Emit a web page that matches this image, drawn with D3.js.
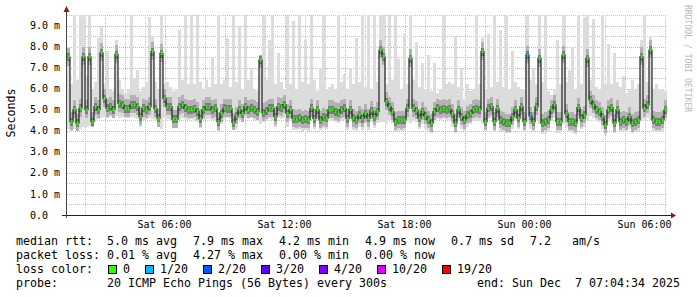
<!DOCTYPE html>
<html>
<head>
<meta charset="utf-8">
<script src="https://cdn.jsdelivr.net/npm/d3@7"></script>
<style>
body { margin: 0; background: #fff; }
svg { display: block; font-family: "DejaVu Sans Mono", monospace; }
text { white-space: pre; }
</style>
</head>
<body>
<svg id="chart" width="697" height="297"></svg>
<script>
// median rtt per 9 min sample (ms), 30 hours
const median = [
  7.5,4.43,5.0,4.36,5.07,7.52,5.0,7.52,4.43,5.15, 5.0,7.71,5.54,5.07,5.15,5.02,7.63,5.3,5.23,5.05,
  5.05,5.23,5.23,5.15,4.67,5.07,5.0,5.15,7.76,5.05, 4.6,7.68,5.54,5.15,5.15,4.55,4.55,5.15,5.23,5.07,
  5.0,5.02,5.05,4.91,4.59,5.0,5.15,5.15,5.0,5.07,
  4.43,4.83,5.07,5.05,5.05,4.4,4.7,5.0,4.83,5.15, 5.0,5.07,5.0,4.91,7.36,4.85,4.95,5.07,5.07,4.67,
  5.15,5.1,5.23,4.83,5.0,4.59,4.55,4.6,4.51,4.55, 4.51,5.07,4.59,5.0,4.51,4.65,4.6,5.0,5.0,4.91,
  4.85,5.0,5.07,4.59,5.02,4.6,4.51,4.75,4.59,4.83,
  4.6,4.95,4.67,4.91,7.84,7.52,5.38,5.15,4.91,4.43, 4.51,4.5,4.51,5.07,7.44,5.07,4.95,4.6,4.91,4.7,
  4.51,4.36,4.91,5.07,5.0,5.05,5.0,5.05,4.8,4.36, 5.0,4.67,4.5,4.75,4.83,5.0,5.05,5.0,7.76,4.43,
  5.07,5.15,4.43,5.05,4.51,4.43,4.36,4.36,4.67,5.0,
  4.6,5.15,4.43,7.6,4.7,4.43,5.15,7.44,4.36,4.43, 4.51,5.0,5.23,4.43,4.43,7.6,4.8,4.43,4.43,4.36,
  5.1,4.6,4.75,7.44,5.46,5.23,5.0,4.91,4.67,4.28, 5.0,5.1,4.36,5.0,4.43,4.51,4.43,4.67,4.36,4.43,
  4.51,7.52,5.07,5.23,7.84,4.51,4.43,4.43,4.51,5.0
];
// slowest ping per sample (top of smoke)
const smokeHi = [
  8.0,6.2,9.6,6.4,9.6,9.6,6.6,9.6,6.0,6.3, 8.4,9.0,6.2,7.8,6.0,5.9,8.3,6.4,6.0,5.8,
  6.0,9.6,6.5,6.9,5.9,6.1,6.3,9.4,8.5,6.3, 6.0,9.6,6.2,6.3,6.1,5.9,6.0,8.8,6.4,9.6,
  6.2,9.6,6.2,9.6,6.3,6.0,6.4,6.1,7.5,6.2,
  9.6,6.2,6.4,8.4,6.1,9.6,6.3,9.0,6.0,9.6, 6.4,7.0,6.0,5.9,7.6,9.6,6.4,8.3,9.6,6.2,
  7.7,6.3,6.0,9.6,6.2,9.2,6.0,9.6,6.3,8.3, 6.2,9.6,6.4,5.9,7.0,9.6,6.0,6.1,6.2,6.0,
  9.6,6.3,6.7,6.0,7.0,6.2,8.4,6.3,9.6,6.1,
  9.6,6.0,9.6,6.3,9.6,9.6,6.2,9.6,6.4,9.6, 7.4,6.0,8.6,6.2,9.6,6.4,8.2,6.1,7.2,6.0,
  7.6,5.9,7.2,5.8,6.0,9.6,6.2,6.3,6.2,8.5, 6.1,7.0,5.5,6.2,5.9,6.0,9.6,6.2,8.4,6.0,
  8.6,6.1,9.6,6.3,8.8,6.1,9.6,6.0,7.8,6.3,
  6.1,6.0,6.0,9.6,6.4,7.0,6.2,9.6,6.3,9.6, 5.9,5.7,6.0,8.3,6.2,9.6,6.3,6.9,8.0,6.0,
  9.6,6.2,9.4,9.5,6.4,9.3,6.1,6.0,9.6,6.2, 8.1,6.2,7.7,6.3,6.1,6.6,5.8,6.0,6.4,6.0,
  6.2,8.3,9.6,6.3,8.5,6.0,6.2,6.0,6.0,5.9
];
// fastest ping per sample (bottom of smoke)
const smokeLo = [
  4.1,4.0,4.1,4.0,4.1,4.2,4.2,4.25,4.2,4.5, 4.55,4.6,4.65,4.6,4.65,4.6,4.7,4.6,4.65,4.6,
  4.6,4.65,4.6,4.55,4.2,4.5,4.55,4.6,4.55,4.5, 4.2,4.1,4.6,4.55,4.5,4.15,4.15,4.5,4.6,4.55,
  4.5,4.55,4.5,4.4,4.15,4.5,4.55,4.55,4.5,4.5,
  3.95,4.3,4.55,4.6,4.55,4.05,4.1,4.5,4.4,4.6, 4.55,4.6,4.5,4.45,4.3,4.4,4.45,4.55,4.5,4.2,
  4.6,4.55,4.6,4.2,4.45,4.05,4.05,4.1,4.0,4.05, 4.0,4.5,4.1,4.45,4.05,4.15,4.1,4.45,4.5,4.4,
  4.35,4.45,4.5,4.05,4.45,4.05,3.95,4.2,4.05,4.3,
  4.05,4.4,4.15,4.35,4.4,4.4,4.3,4.5,4.35,3.95, 4.0,4.0,4.0,4.45,4.35,4.45,4.4,4.1,4.3,4.1,
  4.0,3.9,4.35,4.55,4.5,4.55,4.5,4.5,4.2,3.9, 4.45,4.1,4.0,4.2,4.3,4.45,4.5,4.45,4.3,4.0,
  4.55,4.6,3.95,4.5,4.0,3.95,3.9,3.9,4.1,4.45,
  4.1,4.5,3.95,4.4,4.1,3.95,4.5,4.3,3.85,3.9, 4.0,4.45,4.6,3.9,3.9,4.3,4.2,3.95,3.9,3.85,
  4.5,4.1,4.2,4.45,4.7,4.6,4.45,4.4,4.1,3.8, 4.4,4.5,3.9,4.45,3.95,4.0,3.95,4.1,3.9,3.95,
  4.0,4.45,4.55,4.6,4.5,4.0,3.95,3.95,4.0,4.45
];
// samples that lost pings (index, lost of 20)
const lossIdx = [153, 154];
const lossCnt = [1, 1];

const lossLabels = ["0", "1/20", "2/20", "3/20", "4/20", "10/20", "19/20"];
const lossLimits = [0, 1, 2, 3, 4, 10, 19];
const lossColors = ["#26ff00", "#00b8ff", "#0059ff", "#5e00ff", "#7e00ff", "#dd00ff", "#ff0000"];

const yTicks = [0, 1, 2, 3, 4, 5, 6, 7, 8, 9];
const yTickNums = ["0.0", "1.0", "2.0", "3.0", "4.0", "5.0", "6.0", "7.0", "8.0", "9.0"];
const yTickUnits = ["", "m", "m", "m", "m", "m", "m", "m", "m", "m"];
const xTickClock = [6, 12, 18, 24, 30];
const xTickLabels = ["Sat 06:00", "Sat 12:00", "Sat 18:00", "Sun 00:00", "Sun 06:00"];

const statsRtt = ["5.0 ms avg", "7.9 ms max", "4.2 ms min", "4.9 ms now", "0.7 ms sd"];
const statsLoss = ["0.01 % avg", "4.27 % max", "0.00 % min", "0.00 % now"];

const stepH = 0.15;          // hours per sample
const spanH = 30;            // graph span, hours
const startClock = 1.125;    // Sat 01:07:30

const svg = d3.select("#chart");
const pL = 67, pR = 667, pT = 15, pB = 215;

let x = d3.scaleLinear().domain([0, spanH]).range([pL, pR]);
let y = d3.scaleLinear().domain([0, 9.5]).range([pB, pT]);
let yc = v => y(Math.max(0, Math.min(9.5, v)));

svg.append("defs").append("clipPath").attr("id", "plotclip")
    .append("rect").attr("x", pL).attr("y", pT).attr("width", pR - pL).attr("height", pB - pT);

// grid
let grid = svg.append("g").attr("shape-rendering", "crispEdges");
let minorY = d3.range(0.5, 9.6, 1);
grid.selectAll(".gy").data(minorY).enter().append("line")
    .attr("x1", pL).attr("x2", pR)
    .attr("y1", d => Math.round(y(d)) + 0.5).attr("y2", d => Math.round(y(d)) + 0.5)
    .attr("stroke", "#c4c4c4").attr("stroke-dasharray", "1,1");
let hours = d3.range(2, 32);
grid.selectAll(".gx").data(hours.filter(h => h % 3 != 0)).enter().append("line")
    .attr("x1", h => Math.round(x(h - startClock)) + 0.5).attr("x2", h => Math.round(x(h - startClock)) + 0.5)
    .attr("y1", pT).attr("y2", pB)
    .attr("stroke", "#c4c4c4").attr("stroke-dasharray", "1,1");
grid.selectAll(".my").data(yTicks.slice(1)).enter().append("line")
    .attr("x1", pL).attr("x2", pR)
    .attr("y1", d => Math.round(y(d)) + 0.5).attr("y2", d => Math.round(y(d)) + 0.5)
    .attr("stroke", "#eba3a3").attr("stroke-dasharray", "1,1");
grid.selectAll(".mx").data(hours.filter(h => h % 3 == 0)).enter().append("line")
    .attr("x1", h => Math.round(x(h - startClock)) + 0.5).attr("x2", h => Math.round(x(h - startClock)) + 0.5)
    .attr("y1", pT).attr("y2", pB)
    .attr("stroke", "#eba3a3").attr("stroke-dasharray", "1,1");

// smoke
let plot = svg.append("g").attr("clip-path", "url(#plotclip)").attr("shape-rendering", "crispEdges");
let idx = d3.range(median.length);
plot.selectAll(".s0").data(idx).enter().append("rect")
    .attr("x", i => x(i * stepH)).attr("width", i => x((i + 1) * stepH) - x(i * stepH))
    .attr("y", i => yc(smokeHi[i])).attr("height", i => yc(smokeLo[i]) - yc(smokeHi[i]))
    .attr("fill", "#dcdcdc");
plot.selectAll(".s1").data(idx).enter().append("rect")
    .attr("x", i => x(i * stepH)).attr("width", i => x((i + 1) * stepH) - x(i * stepH))
    .attr("y", i => yc(Math.min(smokeHi[i], median[i] + 0.45)))
    .attr("height", i => yc(Math.max(smokeLo[i], median[i] - 0.4)) - yc(Math.min(smokeHi[i], median[i] + 0.45)))
    .attr("fill", "#b2b2b2");
plot.selectAll(".s2").data(idx).enter().append("rect")
    .attr("x", i => x(i * stepH)).attr("width", i => x((i + 1) * stepH) - x(i * stepH))
    .attr("y", i => yc(median[i] + 0.18)).attr("height", i => yc(median[i] - 0.2) - yc(median[i] + 0.18))
    .attr("fill", "#7c7c7c");

// median line
let pts = idx.map(i => [i * stepH, median[i]]);
pts.push([median.length * stepH, median[median.length - 1]]);
let line = d3.line().x(d => x(d[0])).y(d => y(d[1])).curve(d3.curveStepAfter);
svg.append("path").attr("clip-path", "url(#plotclip)")
    .attr("d", line(pts)).attr("fill", "none").attr("stroke", "#111").attr("stroke-width", 1.1);

let lossOf = i => { let k = lossIdx.indexOf(i); return k < 0 ? 0 : lossCnt[k]; };
let colorOf = n => { let c = 0; lossLimits.forEach((l, j) => { if (n >= l) c = j; }); return lossColors[c]; };
svg.append("g").attr("clip-path", "url(#plotclip)").selectAll("rect").data(idx).enter().append("rect")
    .attr("x", i => x(i * stepH) + 0.5).attr("width", 2.2)
    .attr("y", i => y(median[i]) - 1.5).attr("height", 3)
    .attr("fill", i => colorOf(lossOf(i)));

// axes
let ax = svg.append("g").attr("shape-rendering", "crispEdges");
ax.append("line").attr("x1", 62).attr("x2", 671).attr("y1", pB + 0.5).attr("y2", pB + 0.5).attr("stroke", "#222");
ax.append("line").attr("x1", pL - 0.5).attr("x2", pL - 0.5).attr("y1", pB + 3).attr("y2", 10).attr("stroke", "#444");
svg.append("path").attr("d", `M${671},${pB - 2.5}L${676},${pB + 0.5}L${671},${pB + 3.5}Z`).attr("fill", "#8b1a1a");
svg.append("path").attr("d", `M${pL - 3.5},${12}L${pL - 0.5},${6}L${pL + 2.5},${12}Z`).attr("fill", "#8b1a1a");

// y labels
svg.selectAll(".yn").data(yTicks).enter().append("text")
    .attr("x", 48).attr("y", d => y(d) + 3.6).attr("text-anchor", "end")
    .attr("font-size", "10px").attr("fill", "#000").text((d, i) => yTickNums[i]);
svg.selectAll(".yu").data(yTicks).enter().append("text")
    .attr("x", 54).attr("y", d => y(d) + 3.6)
    .attr("font-size", "10px").attr("fill", "#000").text((d, i) => yTickUnits[i]);

// x labels
svg.selectAll(".xl").data(xTickClock).enter().append("text")
    .attr("x", h => x(h - startClock)).attr("y", 228).attr("text-anchor", "middle")
    .attr("font-size", "10px").attr("fill", "#000").text((d, i) => xTickLabels[i]);

svg.append("text").attr("transform", "translate(15,113) rotate(-90)").attr("text-anchor", "middle")
    .attr("font-size", "11.6px").attr("fill", "#000").text("Seconds");
svg.append("text").attr("transform", "translate(685,5) rotate(90)")
    .attr("font-size", "8.1px").attr("fill", "#b8b8b8").text("RRDTOOL / TOBI OETIKER");

// legend
let lg = svg.append("g").attr("font-size", "11.63px").attr("fill", "#000");
const colX = [107, 193, 279, 365, 451];
lg.append("text").attr("x", 16).attr("y", 245).text("median rtt:");
statsRtt.forEach((s, i) => lg.append("text").attr("x", colX[i]).attr("y", 245).text(s));
lg.append("text").attr("x", 530).attr("y", 245).text("7.2");
lg.append("text").attr("x", 572).attr("y", 245).text("am/s");
lg.append("text").attr("x", 16).attr("y", 259).text("packet loss:");
statsLoss.forEach((s, i) => lg.append("text").attr("x", colX[i]).attr("y", 259).text(s));
lg.append("text").attr("x", 16).attr("y", 273).text("loss color:");
let bx = 108;
lossLabels.forEach((l, i) => {
    lg.append("rect").attr("x", bx + 0.5).attr("y", 265.5).attr("width", 8).attr("height", 8)
        .attr("fill", lossColors[i]).attr("stroke", "#000").attr("shape-rendering", "crispEdges");
    lg.append("text").attr("x", bx + 15).attr("y", 273).text(l);
    bx += 15 + l.length * 7 + 15;
});
lg.append("text").attr("x", 16).attr("y", 287).text("probe:");
lg.append("text").attr("x", 107).attr("y", 287).text("20 ICMP Echo Pings (56 Bytes) every 300s");
lg.append("text").attr("x", 680).attr("y", 287).attr("text-anchor", "end").text("end: Sun Dec  7 07:04:34 2025");
</script>
</body>
</html>
